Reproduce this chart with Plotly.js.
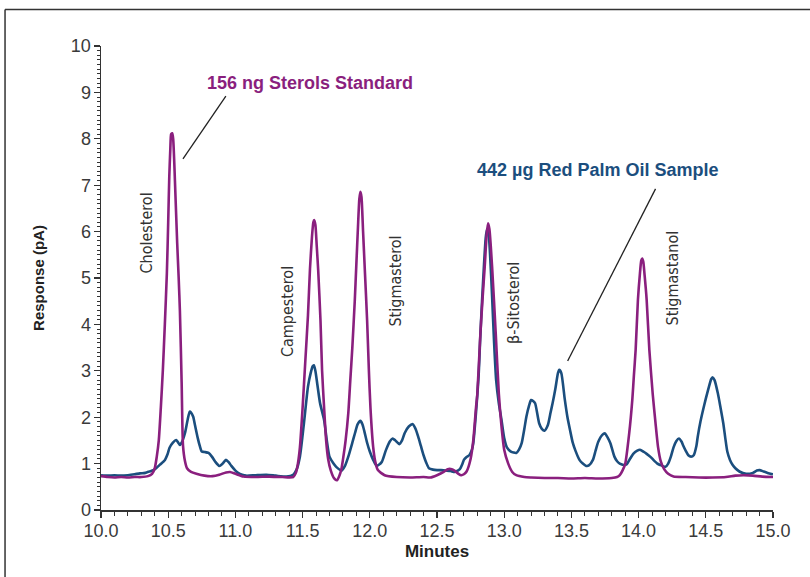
<!DOCTYPE html>
<html>
<head>
<meta charset="utf-8">
<script src="https://cdn.plot.ly/plotly-3.0.1.min.js"></script>
<style>html,body{margin:0;padding:0;background:#fff;}#chart{width:810px;height:577px;}</style>
</head>
<body>
<div id="chart"></div>
<script>
// Minutes (x) and Response in pA (y) for the 156 ng Sterols Standard (magenta)
var stdMinutes = [10.00,10.05,10.10,10.15,10.20,10.25,10.30,10.35,10.38,10.40,10.415,10.43,10.445,10.46,10.475,10.49,10.50,10.508,10.516,10.522,10.53,10.537,10.545,10.55,10.567,10.578,10.587,10.60,10.61,10.625,10.64,10.67,10.71,10.77,10.83,10.88,10.93,10.96,11.00,11.06,11.15,11.25,11.35,11.43,11.45,11.465,11.48,11.50,11.52,11.54,11.555,11.57,11.58,11.586,11.595,11.605,11.616,11.633,11.645,11.66,11.675,11.69,11.71,11.735,11.755,11.775,11.79,11.80,11.82,11.84,11.855,11.87,11.888,11.90,11.912,11.922,11.93,11.938,11.95,11.963,11.98,11.993,12.005,12.025,12.04,12.06,12.11,12.20,12.30,12.40,12.45,12.50,12.55,12.58,12.61,12.63,12.66,12.68,12.70,12.72,12.75,12.77,12.79,12.80,12.823,12.84,12.855,12.87,12.88,12.89,12.91,12.937,12.96,12.98,13.00,13.03,13.06,13.09,13.15,13.20,13.30,13.40,13.50,13.60,13.70,13.80,13.84,13.86,13.88,13.90,13.93,13.953,13.965,13.978,13.995,14.01,14.02,14.027,14.035,14.045,14.06,14.08,14.105,14.125,14.145,14.165,14.19,14.22,14.26,14.35,14.45,14.55,14.65,14.72,14.78,14.85,14.92,15.00];
var stdResponse = [0.73,0.71,0.70,0.71,0.70,0.71,0.71,0.73,0.78,0.90,1.15,1.50,2.20,3.00,4.00,5.10,6.20,7.18,7.80,8.10,8.12,8.00,7.50,7.10,5.75,5.00,4.30,2.75,1.40,1.05,0.90,0.82,0.78,0.74,0.73,0.76,0.81,0.82,0.78,0.72,0.71,0.72,0.71,0.71,0.80,1.00,1.35,2.20,3.20,4.20,5.20,5.90,6.20,6.25,6.15,5.70,5.17,4.09,3.00,2.20,1.50,1.10,0.85,0.68,0.64,0.75,0.90,1.08,1.50,2.09,2.80,3.50,4.50,5.30,6.10,6.70,6.86,6.75,6.00,5.17,4.09,3.02,2.20,1.36,1.05,0.86,0.75,0.71,0.70,0.71,0.70,0.75,0.82,0.88,0.88,0.85,0.78,0.75,0.77,0.83,1.10,1.50,2.20,2.50,3.81,4.60,5.24,5.95,6.18,6.05,5.24,3.81,2.51,1.80,1.30,1.00,0.82,0.75,0.71,0.70,0.69,0.69,0.68,0.69,0.68,0.69,0.71,0.75,0.85,0.99,1.65,2.37,2.90,3.45,4.53,5.10,5.38,5.42,5.35,5.05,4.53,3.45,2.50,1.90,1.35,1.05,0.88,0.78,0.72,0.71,0.70,0.70,0.71,0.74,0.75,0.74,0.72,0.71];

// Minutes (x) and Response in pA (y) for the 442 µg Red Palm Oil Sample (blue)
var oilMinutes = [10.00,10.05,10.10,10.15,10.20,10.25,10.29,10.33,10.36,10.39,10.41,10.44,10.476,10.495,10.51,10.535,10.56,10.575,10.587,10.60,10.625,10.645,10.66,10.67,10.686,10.70,10.72,10.735,10.75,10.77,10.80,10.825,10.85,10.88,10.905,10.93,10.95,10.97,11.00,11.02,11.05,11.08,11.15,11.23,11.30,11.38,11.43,11.455,11.48,11.51,11.54,11.56,11.575,11.584,11.595,11.61,11.63,11.66,11.68,11.70,11.73,11.75,11.79,11.815,11.84,11.87,11.89,11.91,11.93,11.945,11.96,11.98,12.00,12.025,12.05,12.07,12.09,12.12,12.15,12.17,12.19,12.22,12.24,12.26,12.29,12.32,12.34,12.36,12.38,12.40,12.42,12.44,12.47,12.50,12.53,12.56,12.60,12.63,12.65,12.67,12.69,12.70,12.72,12.74,12.76,12.77,12.79,12.81,12.82,12.835,12.85,12.862,12.872,12.882,12.895,12.91,12.925,12.94,12.96,12.98,13.00,13.02,13.05,13.09,13.11,13.13,13.15,13.165,13.185,13.20,13.215,13.23,13.26,13.28,13.30,13.325,13.345,13.36,13.38,13.40,13.41,13.425,13.45,13.47,13.49,13.51,13.53,13.56,13.585,13.61,13.63,13.66,13.68,13.70,13.73,13.75,13.77,13.79,13.82,13.84,13.86,13.89,13.91,13.94,13.96,13.99,14.01,14.04,14.06,14.09,14.11,14.14,14.16,14.20,14.22,14.24,14.26,14.28,14.30,14.32,14.33,14.35,14.37,14.39,14.41,14.43,14.44,14.46,14.48,14.50,14.52,14.54,14.55,14.565,14.59,14.61,14.63,14.645,14.66,14.68,14.70,14.72,14.75,14.80,14.85,14.88,14.90,14.93,14.96,15.00];
var oilResponse = [0.75,0.74,0.75,0.74,0.75,0.77,0.79,0.80,0.83,0.86,0.90,0.98,1.08,1.20,1.34,1.45,1.51,1.45,1.40,1.45,1.66,1.95,2.12,2.10,2.01,1.82,1.55,1.38,1.26,1.25,1.23,1.15,1.04,0.95,1.00,1.08,1.03,0.95,0.85,0.80,0.76,0.74,0.75,0.76,0.74,0.72,0.76,0.87,1.15,1.87,2.66,2.95,3.10,3.12,3.00,2.70,2.30,1.94,1.50,1.15,1.00,0.93,0.85,0.95,1.15,1.45,1.66,1.85,1.92,1.85,1.69,1.45,1.26,1.08,0.95,0.98,1.04,1.29,1.48,1.54,1.50,1.42,1.50,1.66,1.80,1.85,1.75,1.58,1.38,1.18,1.02,0.90,0.87,0.86,0.86,0.85,0.84,0.82,0.84,0.88,1.00,1.08,1.14,1.18,1.30,1.44,2.09,2.90,3.60,4.50,5.30,5.85,6.05,6.00,5.50,4.60,3.60,2.80,2.30,1.94,1.55,1.35,1.26,1.23,1.30,1.44,1.75,2.01,2.25,2.37,2.35,2.30,1.87,1.75,1.71,1.83,2.10,2.30,2.60,2.95,3.02,2.95,2.40,2.01,1.72,1.45,1.28,1.08,1.00,0.95,0.96,1.08,1.28,1.47,1.62,1.65,1.56,1.44,1.15,1.05,1.00,0.97,0.98,1.12,1.21,1.28,1.30,1.25,1.21,1.14,1.08,1.00,0.97,0.93,1.00,1.15,1.35,1.48,1.54,1.47,1.40,1.28,1.18,1.15,1.18,1.38,1.58,1.90,2.16,2.40,2.62,2.82,2.86,2.80,2.51,2.20,1.87,1.55,1.26,1.08,0.97,0.90,0.83,0.78,0.80,0.85,0.86,0.83,0.80,0.77];

var peakNames = ["Cholesterol","Campesterol","Stigmasterol","\u03b2-Sitosterol","Stigmastanol"];
var seriesNames = ["156 ng Sterols Standard","442 \u00b5g Red Palm Oil Sample"];
var xTickVals = [10.0,10.5,11.0,11.5,12.0,12.5,13.0,13.5,14.0,14.5,15.0];
var xTickText = ["10.0","10.5","11.0","11.5","12.0","12.5","13.0","13.5","14.0","14.5","15.0"];
var yTickVals = [0,1,2,3,4,5,6,7,8,9,10];

var magenta = "#8a1f7e";
var blue = "#1b4e7e";
var axisCol = "#333333";

var traces = [
  {x: oilMinutes, y: oilResponse, type: "scatter", mode: "lines", name: seriesNames[1],
   line: {color: blue, width: 2.6, shape: "spline", smoothing: 0.6}, hoverinfo: "skip"},
  {x: stdMinutes, y: stdResponse, type: "scatter", mode: "lines", name: seriesNames[0],
   line: {color: magenta, width: 2.6, shape: "spline", smoothing: 0.6}, hoverinfo: "skip"}
];

var peakPos = [[10.339,5.97],[11.393,4.27],[12.193,4.94],[13.065,4.46],[14.255,5.01]];
var annotations = [];
for (var i = 0; i < peakNames.length; i++) {
  annotations.push({x: peakPos[i][0], y: peakPos[i][1], xref: "x", yref: "y", text: peakNames[i],
    showarrow: false, textangle: -90, xanchor: "center", yanchor: "middle",
    font: {family: "Liberation Sans Narrow, Arial Narrow, DejaVu Sans Condensed, sans-serif", size: 16, color: "#333333"}});
}
annotations.push({x: 10.773, y: 9.20, xref: "x", yref: "y", text: "<b>" + seriesNames[0] + "</b>", showarrow: false,
  xanchor: "left", yanchor: "middle", font: {family: "Liberation Sans, Arial, sans-serif", size: 18, color: magenta}});
annotations.push({x: 12.781, y: 7.33, xref: "x", yref: "y", text: "<b>" + seriesNames[1] + "</b>", showarrow: false,
  xanchor: "left", yanchor: "middle", font: {family: "Liberation Sans, Arial, sans-serif", size: 18, color: blue}});

var shapes = [
  {type: "line", xref: "x", yref: "y", x0: 10.61, y0: 7.565, x1: 10.929, y1: 8.92, line: {color: "#222", width: 1.3}},
  {type: "line", xref: "x", yref: "y", x0: 13.472, y0: 3.21, x1: 14.126, y1: 6.92, line: {color: "#222", width: 1.3}},
  // outer frame (left and top edges of the figure box)
  {type: "line", xref: "paper", yref: "paper", x0: -0.1428, x1: -0.1428, y0: 1.0787, y1: -0.2, line: {color: "#333", width: 1.5}},
  {type: "line", xref: "paper", yref: "paper", x0: -0.1428, x1: 1.1, y0: 1.0787, y1: 1.0787, line: {color: "#333", width: 1.5}}
];

var layout = {
  width: 810, height: 577,
  margin: {l: 101, r: 37, t: 46, b: 67, pad: 0},
  paper_bgcolor: "#ffffff", plot_bgcolor: "#ffffff",
  showlegend: false,
  font: {family: "Liberation Sans, Arial, sans-serif", color: axisCol},
  xaxis: {
    range: [10, 15], tickmode: "array", tickvals: xTickVals, ticktext: xTickText,
    ticks: "outside", ticklen: 6, tickwidth: 1.2, tickcolor: axisCol,
    minor: {dtick: 0.1, ticks: "outside", ticklen: 4, tickwidth: 1, tickcolor: axisCol},
    showline: true, linecolor: axisCol, linewidth: 1.5, showgrid: false, zeroline: false,
    ticklabelstandoff: -2,
    tickfont: {family: "Liberation Sans, Arial, sans-serif", size: 18, color: "#3a3a3a"},
    title: {text: "<b>Minutes</b>", font: {family: "Liberation Sans, Arial, sans-serif", size: 17, color: "#222"}, standoff: 5}
  },
  yaxis: {
    range: [0, 10], tickmode: "array", tickvals: yTickVals,
    ticks: "outside", ticklen: 6, tickwidth: 1.2, tickcolor: axisCol,
    minor: {dtick: 0.1, ticks: "outside", ticklen: 3, tickwidth: 1, tickcolor: axisCol},
    showline: true, linecolor: axisCol, linewidth: 1.5, showgrid: false, zeroline: false,
    ticklabelstandoff: -1,
    tickfont: {family: "Liberation Sans, Arial, sans-serif", size: 18, color: "#3a3a3a"},
    title: {text: "<b>Response (pA)</b>", font: {family: "Liberation Sans, Arial, sans-serif", size: 15, color: "#222"}, standoff: 22}
  },
  annotations: annotations,
  shapes: shapes
};

Plotly.newPlot("chart", traces, layout, {displayModeBar: false, staticPlot: true});
</script>
</body>
</html>
